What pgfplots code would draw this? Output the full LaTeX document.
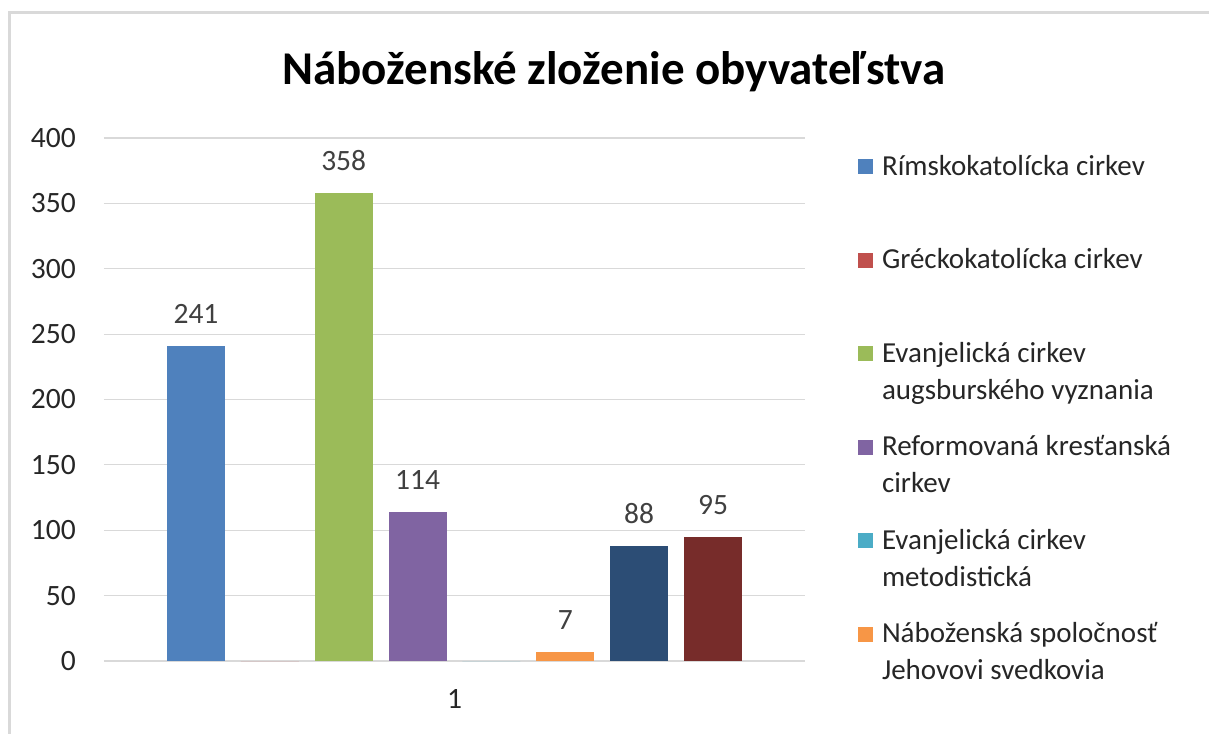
\documentclass[border=0pt]{standalone}
\usepackage{fontspec}
\setmainfont{Carlito}
\usepackage{pgfplots}
\pgfplotsset{compat=1.18}
\definecolor{cA}{HTML}{4F81BD}
\definecolor{cB}{HTML}{C0504D}
\definecolor{cC}{HTML}{9BBB59}
\definecolor{cD}{HTML}{8064A2}
\definecolor{cE}{HTML}{4BACC6}
\definecolor{cF}{HTML}{F79646}
\definecolor{cG}{HTML}{2C4D75}
\definecolor{cH}{HTML}{772C2A}
\definecolor{frame}{HTML}{D9D9D9}
\definecolor{gridc}{HTML}{D9D9D9}
\definecolor{txt}{HTML}{262626}
\definecolor{lbl}{HTML}{404040}
\newcommand{\legent}[1]{\parbox[t]{330pt}{\strut #1}}
\begin{document}
\begin{tikzpicture}
\useasboundingbox (-104pt,-72pt) rectangle (1105pt,661pt);
\draw[line width=3pt, color=frame] (-94pt,-90pt) -- (-94pt,648.5pt) -- (1115pt,648.5pt);
\node[anchor=base, font=\fontsize{47}{56}\selectfont\bfseries] at (510pt,576pt) {Náboženské zloženie obyvateľstva};
\begin{axis}[
  scale only axis, width=701pt, height=523pt,
  at={(0pt,0pt)}, anchor=origin,
  xmin=0, xmax=2, ymin=0, ymax=400,
  ytick={0,50,...,400},
  xtick={1}, xticklabels={1},
  ybar=15.86pt, bar width=58pt,
  every axis plot/.append style={draw=none,
    legend image code/.code={\fill[##1] (0pt,1pt) rectangle (15pt,16pt);}},
  ymajorgrids, grid style={draw=gridc, line width=1.2pt},
  axis line style={draw=none},
  major tick length=0pt,
  clip=false,
  /pgf/number format/assume math mode=true,
  tick label style={font=\fontsize{29.5}{36}\selectfont, text=txt},
  yticklabel style={anchor=east, inner sep=0pt, xshift=-28pt},
  xticklabel style={anchor=north, inner sep=0pt, yshift=-28pt},
  every node near coord/.append style={anchor=south, inner sep=0pt, yshift=22pt,
    font=\fontsize{29.5}{36}\selectfont, text=lbl},
  legend style={at={(1.07561,0.97820)}, anchor=north west, draw=none, fill=none,
    inner sep=0pt, outer sep=0pt, row sep=66.1pt, column sep=9pt,
    font=\fontsize{29}{37}\selectfont, text=txt,
    cells={anchor=base west}, nodes={inner sep=0pt, outer sep=0pt}},
]
\addplot[fill=cA, nodes near coords] coordinates {(1,241)};
\addplot[fill=cB] coordinates {(1,0)};
\addplot[fill=cC, nodes near coords] coordinates {(1,358)};
\addplot[fill=cD, nodes near coords] coordinates {(1,114)};
\addplot[fill=cE] coordinates {(1,0)};
\addplot[fill=cF, nodes near coords] coordinates {(1,7)};
\addplot[fill=cG, nodes near coords] coordinates {(1,88)};
\addplot[fill=cH, nodes near coords] coordinates {(1,95)};
\legend{\legent{Rímskokatolícka cirkev},
  \legent{Gréckokatolícka cirkev},
  \legent{Evanjelická cirkev\\augsburského vyznania},
  \legent{Reformovaná kresťanská\\cirkev},
  \legent{Evanjelická cirkev\\metodistická},
  \legent{Náboženská spoločnosť\\Jehovovi svedkovia}}
\end{axis}
\end{tikzpicture}
\end{document}
